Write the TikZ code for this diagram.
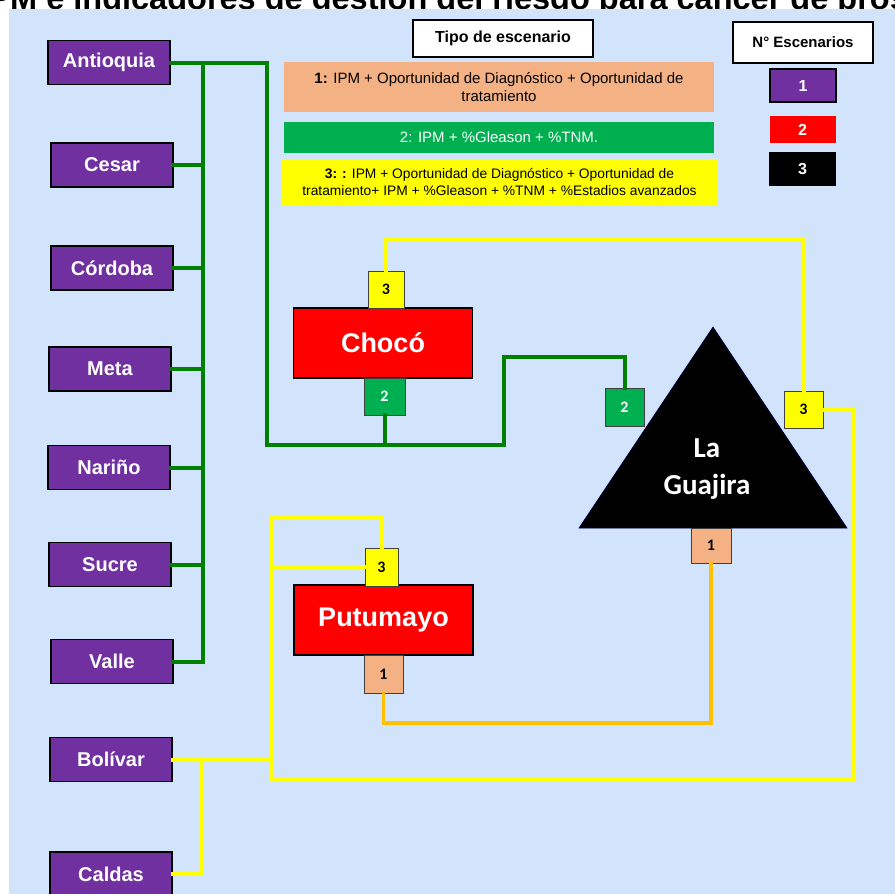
\documentclass[tikz,border=0pt]{standalone}
\usepackage{fontspec}
\setmainfont{Liberation Sans}
\newfontfamily\calib{Carlito}
\definecolor{bg}{HTML}{D2E3FC}
\definecolor{purp}{HTML}{7030A0}
\definecolor{dgreen}{HTML}{008000}
\definecolor{lgreen}{HTML}{00B050}
\definecolor{peach}{HTML}{F4B183}
\definecolor{gold}{HTML}{FFC000}
\definecolor{yel}{HTML}{FFFF00}
\definecolor{redc}{HTML}{FF0000}
\definecolor{edge}{HTML}{404040}
\begin{document}
\begin{tikzpicture}[x=1pt,y=-1pt,
  dept/.style={draw=black, line width=1.6pt, fill=purp, text=white,
    font=\fontsize{20}{24}\selectfont\bfseries, minimum width=122pt,
    minimum height=44pt, inner sep=0pt},
  bigbox/.style={draw=black, line width=1.6pt, fill=redc, text=white,
    font=\fontsize{27}{30}\selectfont\bfseries, minimum width=179pt,
    minimum height=70pt, inner sep=0pt},
  numbox/.style={draw=edge, line width=0.8pt, inner sep=0pt,
    font=\calib\fontsize{16}{18}\selectfont\bfseries},
  legbox/.style={inner sep=0pt, align=center},
  hdrbox/.style={draw=black, line width=1.6pt, fill=white, inner sep=0pt,
    font=\fontsize{16}{18}\selectfont\bfseries},
  keybox/.style={inner sep=0pt, text=white, minimum width=66pt,
    font=\fontsize{16}{18}\selectfont\bfseries},
  gline/.style={draw=dgreen, line width=4pt, line join=miter, line cap=rect},
  yline/.style={draw=yel, line width=4pt, line join=miter, line cap=rect},
  oline/.style={draw=gold, line width=3.5pt, line join=miter, line cap=rect}
]
\useasboundingbox (0,0) rectangle (895,894);
\clip (0,0) rectangle (895,894);
% title (cut off at the top of the picture)
\node[anchor=base west, inner sep=0pt, font=\fontsize{32.5}{33}\selectfont\bfseries] (title) at (-20.7,9.5)
  {IPM e indicadores de gestión del riesgo para cáncer de próstata};
\fill[bg] (9,9) rectangle (895,894);

% departments
\node[dept] (ant) at (109,62.5) {Antioquia};
\node[dept] (ces) at (112,165) {Cesar};
\node[dept] (cor) at (112,268) {Córdoba};
\node[dept] (met) at (110,369) {Meta};
\node[dept] (nar) at (109,467.5) {Nariño};
\node[dept] (suc) at (110,564.5) {Sucre};
\node[dept] (val) at (112,661.5) {Valle};
\node[dept] (bol) at (111,759.5) {Bolívar};
\node[dept] (cal) at (111,874) {Caldas};

% legend
\node[hdrbox, minimum width=180pt, minimum height=37pt] (tipo) at (503,38.5) {Tipo de escenario};
\node[legbox, fill=peach, minimum width=430pt, minimum height=50pt, font=\fontsize{15}{18}\selectfont] (s1) at (499,87)
  {\textbf{1:} IPM + Oportunidad de Diagnóstico + Oportunidad de\\tratamiento};
\node[legbox, fill=lgreen, text=white, minimum width=430pt, minimum height=31pt, font=\fontsize{15}{18}\selectfont] (s2) at (499,137.5)
  {2: IPM + \%Gleason + \%TNM.};
\node[legbox, fill=yel, minimum width=435pt, minimum height=46pt, font=\fontsize{13.8}{17}\selectfont] (s3) at (499.5,182)
  {\textbf{3: :} IPM + Oportunidad de Diagnóstico + Oportunidad de\\tratamiento+ IPM + \%Gleason + \%TNM + \%Estadios avanzados};

\node[hdrbox, minimum width=140pt, minimum height=41pt, font=\fontsize{15}{18}\selectfont\bfseries] (nesc) at (803,42.5) {N° Escenarios};
\node[keybox, fill=purp, draw=black, line width=1.6pt, minimum height=33pt] (k1) at (803,85.5) {1};
\node[keybox, fill=redc, minimum height=27pt] (k2) at (802.5,129.5) {2};
\node[keybox, fill=black, minimum width=67pt, minimum height=34pt] (k3) at (802.5,169) {3};

% Chocó
\node[bigbox] (cho) at (383,343) {Chocó};
\node[numbox, fill=yel, minimum width=36pt, minimum height=37pt] (ch3) at (386,289.5) {3};
\node[numbox, fill=lgreen, text=white, minimum width=41pt, minimum height=37pt] (ch2) at (384.5,396.5) {2};

% Putumayo
\node[bigbox] (put) at (383.5,620) {Putumayo};
\node[numbox, fill=yel, minimum width=33pt, minimum height=38pt] (pu3) at (381.5,567) {3};
\node[numbox, fill=peach, minimum width=39pt, minimum height=38pt] (pu1) at (383.5,674) {1};

% La Guajira
\coordinate (apex) at (713,327);
\coordinate (bR) at (847,528);
\coordinate (bL) at (579,528);
\filldraw[fill=black, draw=black!70!blue, line width=0.6pt] (apex) -- (bR) -- (bL) -- cycle;
\node[align=center, text=white, inner sep=0pt, font=\calib\fontsize{29}{37}\selectfont\bfseries] (lg) at (707,469) {La\\Guajira};
\node[numbox, fill=lgreen, text=white, minimum width=39pt, minimum height=38pt] (gg2) at (624.5,407) {2};
\node[numbox, fill=yel, minimum width=39pt, minimum height=37pt] (gy3) at (803.5,409.5) {3};
\node[numbox, fill=peach, minimum width=40pt, minimum height=35pt] (lg1) at (711,545.5) {1};

% green connectors
\coordinate (jA) at (203,62.5);
\coordinate (jV) at (203,661.5);
\coordinate (g1) at (267,445);
\coordinate (g2) at (504,445);
\coordinate (g3) at (504,357);
\draw[gline] (jA) -- (jV);
\draw[gline] (ces.east) -- (ces.east -| jA);
\draw[gline] (cor.east) -- (cor.east -| jA);
\draw[gline] (met.east) -- (met.east -| jA);
\draw[gline] (nar.east) -- (nar.east -| jA);
\draw[gline] (suc.east) -- (suc.east -| jA);
\draw[gline] (val.east) -- (val.east -| jA);
\draw[gline] (ant.east) -| (g1) -- (g2) -- (g3) -| (gg2.north);
\draw[gline] (ch2.south) -- (ch2.south |- g1);

% yellow connectors
\coordinate (ytop) at (803.5,239);
\coordinate (yr) at (854,780);
\coordinate (yl) at (271,780);
\coordinate (ytl) at (271,517);
\coordinate (yb) at (201,759.5);
\draw[yline] (ch3.north) |- (ytop) -- (gy3.north);
\draw[yline] (gy3.east) -| (yr) -- (yl) -- (ytl) -| (pu3.north);
\draw[yline] (pu3.west) -- (pu3.west -| ytl);
\draw[yline] (bol.east) -- (bol.east -| yl);
\draw[yline] (cal.east) -| (yb);

% orange connector
\coordinate (o2) at (711,723);
\draw[oline] (pu1.south) |- (o2) -- (lg1.south);
\end{tikzpicture}
\end{document}
